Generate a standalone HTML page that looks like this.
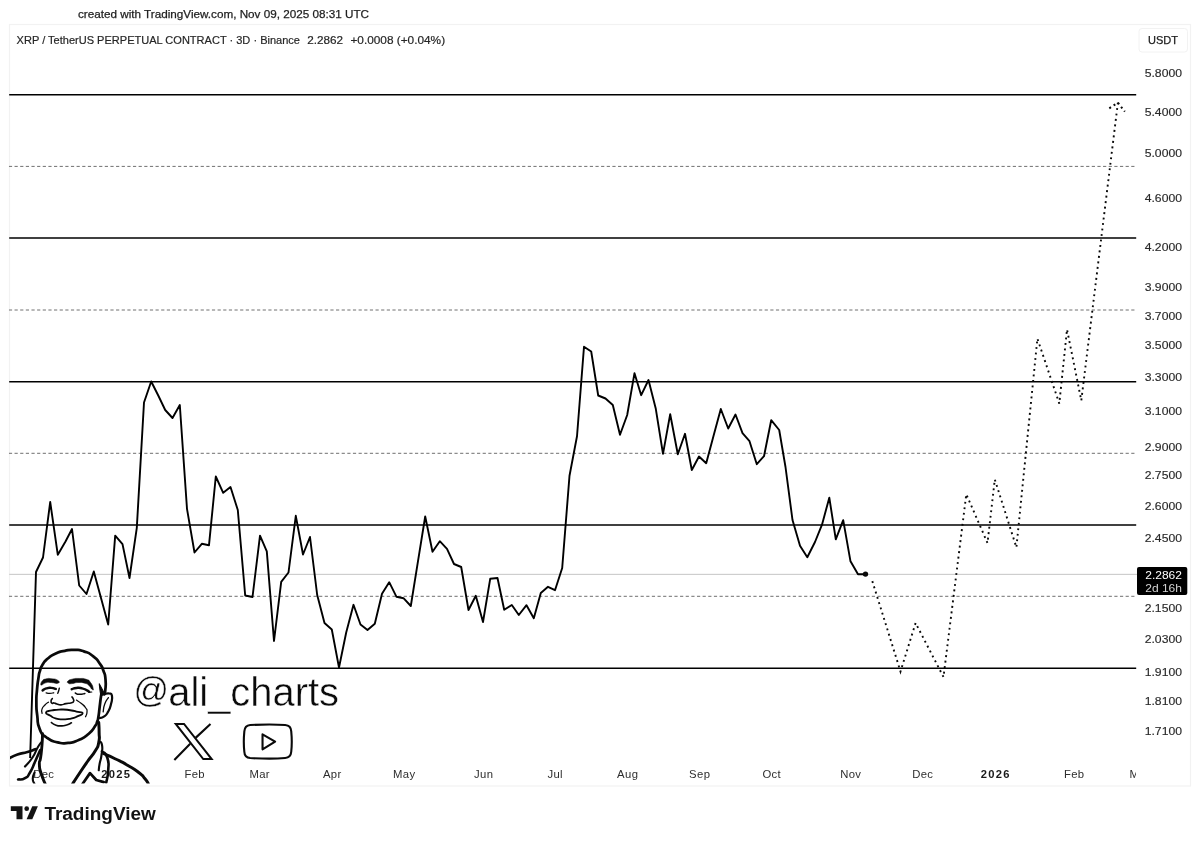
<!DOCTYPE html>
<html lang="en"><head><meta charset="utf-8"><title>XRP / TetherUS PERPETUAL CONTRACT</title>
<style>
html,body{margin:0;padding:0;background:#fff;}
body{width:1200px;height:841px;overflow:hidden;position:relative;font-family:"Liberation Sans",Arial,sans-serif;}
svg{position:absolute;left:0;top:0;display:block;}
text{font-family:"Liberation Sans",Arial,sans-serif;}
.ax{font-size:11.7px;fill:#2a2a2a;stroke:#2a2a2a;stroke-width:0.15px;}
.tm{font-size:11.3px;fill:#2e2e2e;text-anchor:middle;letter-spacing:0.35px;}
.tmb{font-size:11.2px;fill:#1a1a1a;text-anchor:middle;font-weight:bold;letter-spacing:1.3px;}
</style></head><body>
<svg width="1200" height="841" viewBox="0 0 1200 841">
<rect x="0" y="0" width="1200" height="841" fill="#ffffff"/>
<!-- frame -->
<rect x="9.5" y="24.5" width="1181" height="761.5" fill="none" stroke="#f2f2f2" stroke-width="1.2"/>
<rect x="1139" y="28.5" width="48.5" height="23.5" rx="3" fill="none" stroke="#f2f2f2" stroke-width="1"/>
<defs><clipPath id="pane"><rect x="8.8" y="25" width="1128.4" height="759.5"/></clipPath>
<clipPath id="all"><rect x="10" y="25" width="1180" height="758.5"/></clipPath>
<clipPath id="pline"><rect x="10" y="25" width="1126.5" height="733"/></clipPath>
<clipPath id="tclip"><rect x="10" y="760" width="1126" height="25"/></clipPath></defs>
<text x="78" y="17.9" font-size="11.7" fill="#1e1e1e" stroke="#1e1e1e" stroke-width="0.25" textLength="291" lengthAdjust="spacingAndGlyphs">created with TradingView.com, Nov 09, 2025 08:31 UTC</text>
<text x="16.6" y="43.6" font-size="11.6" fill="#262626" stroke="#262626" stroke-width="0.2" lengthAdjust="spacingAndGlyphs" textLength="283.4">XRP / TetherUS PERPETUAL CONTRACT · 3D · Binance</text>
<text x="307.2" y="43.6" font-size="11.6" fill="#262626" stroke="#262626" stroke-width="0.2" lengthAdjust="spacingAndGlyphs" textLength="35.9">2.2862</text>
<text x="350.4" y="43.6" font-size="11.6" fill="#262626" stroke="#262626" stroke-width="0.2" lengthAdjust="spacingAndGlyphs" textLength="94.7">+0.0008 (+0.04%)</text>
<text x="1163" y="43.9" font-size="11" fill="#1e1e1e" stroke="#1e1e1e" stroke-width="0.25" text-anchor="middle">USDT</text>
<g clip-path="url(#pane)">
<line x1="9.2" x2="1137" y1="574.35" y2="574.35" stroke="#c6c6c6" stroke-width="1"/>
<line x1="8.9" x2="1134.5" y1="166.4" y2="166.4" stroke="#707070" stroke-width="1" stroke-dasharray="3.2 2.44"/>
<line x1="8.9" x2="1134.5" y1="310" y2="310" stroke="#707070" stroke-width="1" stroke-dasharray="3.2 2.44"/>
<line x1="8.9" x2="1134.5" y1="453.3" y2="453.3" stroke="#707070" stroke-width="1" stroke-dasharray="3.2 2.44"/>
<line x1="8.9" x2="1134.5" y1="596.3" y2="596.3" stroke="#707070" stroke-width="1" stroke-dasharray="3.2 2.44"/>
<line x1="9.2" x2="1136.2" y1="94.7" y2="94.7" stroke="#000" stroke-width="1.6"/>
<line x1="9.2" x2="1136.2" y1="238.0" y2="238.0" stroke="#000" stroke-width="1.6"/>
<line x1="9.2" x2="1136.2" y1="381.8" y2="381.8" stroke="#000" stroke-width="1.6"/>
<line x1="9.2" x2="1136.2" y1="525.0" y2="525.0" stroke="#000" stroke-width="1.6"/>
<line x1="9.2" x2="1136.2" y1="668.3" y2="668.3" stroke="#000" stroke-width="1.6"/>
<polyline clip-path="url(#pline)" points="28.8,800.0 36.0,572.0 43.0,557.5 50.2,502.0 57.8,554.8 65.5,541.5 72.0,529.0 79.2,585.5 86.5,594.0 93.8,571.5 101.0,598.0 108.2,624.5 115.2,535.6 122.5,544.1 129.5,578.0 136.8,527.8 144.0,402.5 151.2,381.5 158.5,396.0 165.2,410.0 172.5,418.0 179.8,405.0 187.0,508.8 194.5,552.5 201.8,543.8 209.0,545.2 215.8,476.5 223.2,492.8 230.5,487.0 237.8,510.0 245.2,595.5 252.5,597.0 260.0,535.6 266.8,551.4 274.0,641.0 281.2,581.8 288.5,572.5 295.8,515.8 303.0,554.5 310.0,537.0 317.2,595.0 324.5,623.0 331.8,629.5 339.0,667.5 346.2,632.5 353.5,604.8 360.5,624.5 367.5,630.0 374.8,623.8 382.0,593.8 389.2,582.2 396.5,596.8 403.5,598.2 410.8,606.0 418.0,561.2 425.2,516.5 432.5,551.8 439.8,541.2 447.0,548.8 454.0,564.0 461.2,567.0 468.5,610.0 475.8,595.8 483.0,622.0 490.2,578.8 497.5,578.0 504.2,609.8 511.8,605.0 518.8,615.0 526.5,605.2 533.8,618.2 540.8,593.0 548.0,586.8 555.0,590.2 562.2,568.0 569.5,475.8 577.0,436.2 584.0,346.8 591.2,351.5 598.2,395.5 605.5,398.5 612.8,405.0 620.0,434.8 627.2,415.0 634.5,373.2 641.2,395.2 648.5,380.0 655.8,408.8 663.0,453.8 670.2,414.2 677.8,454.2 685.0,433.8 691.8,470.0 699.0,456.5 706.2,463.2 713.5,436.0 720.8,409.0 728.2,428.5 735.5,414.5 742.5,433.2 749.5,441.2 756.8,464.2 764.0,456.2 771.2,420.2 779.2,430.0 785.5,467.0 792.5,520.0 800.0,545.8 807.3,557.2 815.0,542.0 822.0,524.7 829.3,497.7 835.8,539.3 843.2,520.2 850.5,561.3 858.0,574.2 865.3,574.2" fill="none" stroke="#000" stroke-width="1.9" stroke-linejoin="round" stroke-linecap="round"/>
<polyline points="872.3,581.1 900.5,671.5 915.6,623.0 943.5,677.0 966.3,494.2 987.5,543.0 994.8,479.5 1016.4,547.4 1037.4,338.6 1059.3,403.6 1067.0,329.4 1081.3,400.5 1117.9,102.6" fill="none" stroke="#0a0a0a" stroke-width="1.9" stroke-dasharray="1.9 3.62"/>
<polyline points="1109.3,108.3 1117.9,102.6 1124.8,111.7" fill="none" stroke="#0a0a0a" stroke-width="2" stroke-dasharray="2 3.2"/>
<circle cx="865.5" cy="574.1" r="2.7" fill="#0a0a0a"/>
</g>
<text class="ax" x="1144.7" y="77.3" textLength="37.3" lengthAdjust="spacingAndGlyphs">5.8000</text>
<text class="ax" x="1144.7" y="115.8" textLength="37.3" lengthAdjust="spacingAndGlyphs">5.4000</text>
<text class="ax" x="1144.7" y="157.3" textLength="37.3" lengthAdjust="spacingAndGlyphs">5.0000</text>
<text class="ax" x="1144.7" y="202.2" textLength="37.3" lengthAdjust="spacingAndGlyphs">4.6000</text>
<text class="ax" x="1144.7" y="251.2" textLength="37.3" lengthAdjust="spacingAndGlyphs">4.2000</text>
<text class="ax" x="1144.7" y="291.1" textLength="37.3" lengthAdjust="spacingAndGlyphs">3.9000</text>
<text class="ax" x="1144.7" y="319.5" textLength="37.3" lengthAdjust="spacingAndGlyphs">3.7000</text>
<text class="ax" x="1144.7" y="349.4" textLength="37.3" lengthAdjust="spacingAndGlyphs">3.5000</text>
<text class="ax" x="1144.7" y="381.1" textLength="37.3" lengthAdjust="spacingAndGlyphs">3.3000</text>
<text class="ax" x="1144.7" y="414.8" textLength="37.3" lengthAdjust="spacingAndGlyphs">3.1000</text>
<text class="ax" x="1144.7" y="450.7" textLength="37.3" lengthAdjust="spacingAndGlyphs">2.9000</text>
<text class="ax" x="1144.7" y="479.3" textLength="37.3" lengthAdjust="spacingAndGlyphs">2.7500</text>
<text class="ax" x="1144.7" y="509.5" textLength="37.3" lengthAdjust="spacingAndGlyphs">2.6000</text>
<text class="ax" x="1144.7" y="541.5" textLength="37.3" lengthAdjust="spacingAndGlyphs">2.4500</text>
<text class="ax" x="1144.7" y="611.9" textLength="37.3" lengthAdjust="spacingAndGlyphs">2.1500</text>
<text class="ax" x="1144.7" y="642.8" textLength="37.3" lengthAdjust="spacingAndGlyphs">2.0300</text>
<text class="ax" x="1144.7" y="675.7" textLength="37.3" lengthAdjust="spacingAndGlyphs">1.9100</text>
<text class="ax" x="1144.7" y="704.6" textLength="37.3" lengthAdjust="spacingAndGlyphs">1.8100</text>
<text class="ax" x="1144.7" y="735.2" textLength="37.3" lengthAdjust="spacingAndGlyphs">1.7100</text>
<rect x="1137" y="567" width="50.3" height="28" rx="2" fill="#000"/>
<text x="1145.2" y="579.3" font-size="11.7" fill="#fff" textLength="36.8" lengthAdjust="spacingAndGlyphs">2.2862</text>
<text x="1145.2" y="591.9" font-size="11.7" fill="#d4d4d4" textLength="36.8" lengthAdjust="spacingAndGlyphs">2d 16h</text>
<g clip-path="url(#tclip)">
<text class="tm" x="43.7" y="777.6">Dec</text>
<text class="tmb" x="116.2" y="777.6">2025</text>
<text class="tm" x="194.7" y="777.6">Feb</text>
<text class="tm" x="259.7" y="777.6">Mar</text>
<text class="tm" x="332.2" y="777.6">Apr</text>
<text class="tm" x="404.2" y="777.6">May</text>
<text class="tm" x="483.7" y="777.6">Jun</text>
<text class="tm" x="555.2" y="777.6">Jul</text>
<text class="tm" x="627.7" y="777.6">Aug</text>
<text class="tm" x="699.7" y="777.6">Sep</text>
<text class="tm" x="771.7" y="777.6">Oct</text>
<text class="tm" x="850.7" y="777.6">Nov</text>
<text class="tm" x="922.7" y="777.6">Dec</text>
<text class="tmb" x="995.7" y="777.6">2026</text>
<text class="tm" x="1074.2" y="777.6">Feb</text>
<text class="tm" x="1139.7" y="777.6">Mar</text>
</g>
<g clip-path="url(#all)"><g transform="translate(25,640) scale(0.13072)" fill="none" stroke="#0a0a0a" stroke-linecap="round" stroke-linejoin="round">
<path d="M586.0,408.0C584.0,419.0 585.0,405.7 580.0,441.0C575.0,476.3 577.0,465.7 571.0,514.0C565.0,562.3 568.3,549.0 562.0,586.0C555.7,623.0 561.0,600.3 552.0,625.0C543.0,649.7 556.3,629.3 535.0,660.0C513.7,690.7 529.3,682.0 488.0,717.0C446.7,752.0 463.7,741.7 411.0,765.0C358.3,788.3 383.7,781.0 330.0,787.0C276.3,793.0 305.0,796.7 250.0,783.0C195.0,769.3 211.0,780.3 165.0,746.0C119.0,711.7 135.7,735.3 112.0,680.0C88.3,624.7 102.3,646.7 94.0,580.0C85.7,513.3 87.7,546.7 87.0,480.0C86.3,413.3 86.7,443.3 92.0,380.0C97.3,316.7 95.7,337.3 103.0,290.0C110.3,242.7 103.3,272.0 114.0,238.0C124.7,204.0 114.7,220.0 135.0,188.0C155.3,156.0 141.7,170.0 175.0,142.0C208.3,114.0 191.7,123.7 235.0,104.0C278.3,84.3 257.3,92.3 305.0,83.0C352.7,73.7 329.7,74.7 378.0,76.0C426.3,77.3 402.7,71.3 450.0,87.0C497.3,102.7 480.0,92.7 520.0,123.0C560.0,153.3 543.3,140.7 570.0,178.0C596.7,215.3 584.7,193.0 600.0,235.0C615.3,277.0 611.3,253.7 616.0,304.0C620.7,354.3 616.7,349.3 614.0,386.0C611.3,422.7 610.0,404.7 608.0,414.0" stroke-width="21"/>
<path d="M607.0,415.0C619.3,413.0 624.7,405.0 644.0,409.0C663.3,413.0 660.0,401.3 665.0,427.0C670.0,452.7 669.0,445.0 659.0,486.0C649.0,527.0 653.7,516.7 635.0,550.0C616.3,583.3 624.3,570.7 603.0,586.0C581.7,601.3 581.7,592.7 571.0,596.0" stroke-width="17"/>
<path d="M638.0,441.0C628.7,457.3 623.3,453.7 610.0,490.0C596.7,526.3 602.0,530.0 598.0,550.0" stroke-width="10"/>
<path d="M568,334 C584,362 600,392 610,418 L580,425 C575,395 570,365 568,334Z" fill="#0a0a0a" stroke-width="8"/>
</g>
<g transform="translate(33,672) scale(0.070141)" fill="none" stroke="#0a0a0a" stroke-linecap="round" stroke-linejoin="round">
<path d="M115.0,168.0C118.3,147.7 113.3,147.7 135.0,125.0C156.7,102.3 138.3,110.0 180.0,100.0C221.7,90.0 201.7,88.3 260.0,95.0C318.3,101.7 324.3,98.3 355.0,120.0C385.7,141.7 383.7,150.0 352.0,160.0C320.3,170.0 317.3,151.7 260.0,150.0C202.7,148.3 225.0,143.0 180.0,155.0C135.0,167.0 146.7,181.7 125.0,186.0C103.3,190.3 111.7,188.3 115.0,168.0Z" fill="#0a0a0a" stroke-width="8"/>
<path d="M500.0,130.0C518.3,110.7 506.7,114.7 560.0,102.0C613.3,89.3 593.3,91.0 660.0,92.0C726.7,93.0 706.7,85.7 760.0,105.0C813.3,124.3 787.3,106.3 820.0,150.0C852.7,193.7 851.3,204.0 858.0,236.0C864.7,268.0 859.3,259.7 840.0,246.0C820.7,232.3 833.3,223.7 800.0,195.0C766.7,166.3 793.3,175.0 740.0,160.0C686.7,145.0 700.0,148.3 640.0,150.0C580.0,151.7 605.0,161.7 560.0,165.0C515.0,168.3 525.0,171.7 505.0,160.0C485.0,148.3 481.7,149.3 500.0,130.0Z" fill="#0a0a0a" stroke-width="8"/>
<path d="M137.0,262.0C154.7,252.7 149.0,246.0 190.0,234.0C231.0,222.0 215.0,223.7 260.0,226.0C305.0,228.3 303.3,236.0 325.0,241.0" stroke-width="35"/>
<path d="M187.0,298.0C204.7,300.3 204.0,305.7 240.0,305.0C276.0,304.3 276.7,299.0 295.0,296.0" stroke-width="18"/>
<path d="M552.0,246.0C574.7,239.7 570.7,231.3 620.0,227.0C669.3,222.7 650.0,221.3 700.0,233.0C750.0,244.7 736.7,246.0 770.0,262.0C803.3,278.0 790.0,274.7 800.0,281.0" stroke-width="35"/>
<path d="M602.0,300.0C621.3,306.0 614.0,316.0 660.0,318.0C706.0,320.0 713.3,310.0 740.0,306.0" stroke-width="21"/>
<path d="M797,291 L838,286" stroke-width="16"/>
<path d="M375.0,232.0C371.7,244.7 372.3,245.7 365.0,270.0C357.7,294.3 357.0,293.3 353.0,305.0" stroke-width="20"/>
<path d="M275.0,378.0C269.3,388.7 260.3,387.7 258.0,410.0C255.7,432.3 254.0,434.7 268.0,445.0C282.0,455.3 276.0,437.7 300.0,441.0C324.0,444.3 306.7,446.0 340.0,455.0C373.3,464.0 356.7,469.3 400.0,468.0C443.3,466.7 423.3,460.0 470.0,451.0C516.7,442.0 504.0,451.3 540.0,441.0C576.0,430.7 567.0,439.7 578.0,420.0C589.0,400.3 580.3,403.3 573.0,382.0C565.7,360.7 561.7,364.7 556.0,356.0" stroke-width="23"/>
<path d="M220.0,430.0C203.3,443.3 200.7,436.7 170.0,470.0C139.3,503.3 141.3,490.0 128.0,530.0C114.7,570.0 129.3,570.0 130.0,590.0" stroke-width="18"/>
<path d="M620.0,400.0C643.3,416.7 646.7,413.3 690.0,450.0C733.3,486.7 723.3,470.0 750.0,510.0C776.7,550.0 770.3,527.3 770.0,570.0C769.7,612.7 756.0,615.3 749.0,638.0" stroke-width="18"/>
<path d="M185.0,578.0C191.7,552.3 198.3,562.3 270.0,548.0C341.7,533.7 313.3,536.0 400.0,535.0C486.7,534.0 450.0,533.3 530.0,545.0C610.0,556.7 580.7,555.7 640.0,570.0C699.3,584.3 708.0,568.0 708.0,588.0C708.0,608.0 696.0,604.3 640.0,630.0C584.0,655.7 613.3,650.0 540.0,665.0C466.7,680.0 493.3,676.7 420.0,675.0C346.7,673.3 376.7,676.7 320.0,660.0C263.3,643.3 295.0,652.3 250.0,625.0C205.0,597.7 178.3,603.7 185.0,578.0Z" stroke-width="26" fill="#fff"/>
<path d="M262.0,720.0C281.3,731.7 274.0,739.0 320.0,755.0C366.0,771.0 346.7,768.0 400.0,768.0C453.3,768.0 430.7,769.3 480.0,755.0C529.3,740.7 525.3,735.0 548.0,725.0" stroke-width="23"/>
</g>
<g transform="translate(5,720) scale(0.125)" fill="none" stroke="#0a0a0a" stroke-linecap="round" stroke-linejoin="round">
<path d="M300.0,110.0C298.7,140.0 301.0,136.7 296.0,200.0C291.0,263.3 292.0,248.3 285.0,300.0C278.0,351.7 273.3,311.7 275.0,355.0C276.7,398.3 274.3,377.7 290.0,430.0C305.7,482.3 311.3,484.7 322.0,512.0" stroke-width="23"/>
<path d="M290.0,178.0C280.0,192.7 283.3,181.3 260.0,222.0C236.7,262.7 253.3,250.0 220.0,300.0C186.7,350.0 180.0,348.0 160.0,372.0" stroke-width="17"/>
<path d="M282.0,240.0C268.7,270.0 269.3,270.0 242.0,330.0C214.7,390.0 227.3,375.0 200.0,420.0C172.7,465.0 191.7,446.3 160.0,465.0C128.3,483.7 123.3,472.3 105.0,476.0" stroke-width="21"/>
<path d="M236.0,420.0C231.3,436.7 222.0,439.3 222.0,470.0C222.0,500.7 231.3,498.0 236.0,512.0" stroke-width="17"/>
<path d="M36.0,305.0C57.3,295.3 52.0,292.3 100.0,276.0C148.0,259.7 132.7,270.0 180.0,256.0C227.3,242.0 221.3,241.3 242.0,234.0" stroke-width="22"/>
<path d="M750.0,20.0C751.0,46.7 753.0,46.7 753.0,100.0C753.0,153.3 761.0,130.0 750.0,180.0C739.0,230.0 750.0,199.3 720.0,250.0C690.0,300.7 700.0,275.3 660.0,332.0C620.0,388.7 640.0,360.0 600.0,420.0C560.0,480.0 560.0,481.3 540.0,512.0" stroke-width="24"/>
<path d="M752.0,172.0C760.0,181.3 769.3,164.0 776.0,200.0C782.7,236.0 778.3,230.0 772.0,280.0C765.7,330.0 764.3,309.3 757.0,350.0C749.7,390.7 752.3,384.7 750.0,402.0" stroke-width="17"/>
<path d="M776.0,250.0C790.0,266.7 801.3,250.0 818.0,300.0C834.7,350.0 828.7,333.3 826.0,400.0C823.3,466.7 815.3,466.7 810.0,500.0" stroke-width="21"/>
<path d="M620,512 L680,425 L730,480 L790,497" stroke-width="22"/>
<path d="M790.0,270.0C820.0,283.3 816.7,279.3 880.0,310.0C943.3,340.7 916.7,325.3 980.0,362.0C1043.3,398.7 1023.3,384.0 1070.0,420.0C1116.7,456.0 1094.7,440.7 1120.0,470.0C1145.3,499.3 1137.3,495.3 1146.0,508.0" stroke-width="24"/>
</g></g>
<text id="handle" fill="#0a0a0a" stroke="#ffffff" stroke-width="0.45"><tspan x="133.6" y="702.4" font-size="35">@</tspan><tspan x="168.2" y="705.6" font-size="40.3" textLength="170.9" lengthAdjust="spacingAndGlyphs">ali_charts</tspan></text>
<g transform="translate(165,715) scale(0.11667)" fill="none" stroke="#0a0a0a" stroke-linejoin="miter">
<path d="M92,77 L163,77 L400,378 L328,378 Z" stroke-width="17"/>
<path d="M390,78 L262,196 M216,246 L80,385" stroke-width="18"/>
<path d="M730,86 C850,80 950,80 1030,86 Q1080,90 1082,140 C1088,200 1088,260 1082,315 Q1078,365 1030,369 C950,376 850,376 730,369 Q682,365 680,315 C674,260 674,200 680,140 Q684,90 730,86 Z" stroke-width="18" stroke-linejoin="round"/>
<path d="M836,166 L944,228 L836,294 Z" stroke-width="18" stroke-linejoin="round"/>
</g>
<g fill="#131313">
<path d="M10.8,806.2 H22.5 V819.3 H16.5 V811 H10.8 Z"/>
<circle cx="26.7" cy="808.7" r="2.35"/>
<path d="M32.3,806.2 H37.9 L32.3,819.3 H26.6 Z"/>
</g>
<text x="44.4" y="819.6" font-size="18" font-weight="bold" fill="#131313" textLength="111.4" lengthAdjust="spacingAndGlyphs">TradingView</text>
</svg></body></html>
